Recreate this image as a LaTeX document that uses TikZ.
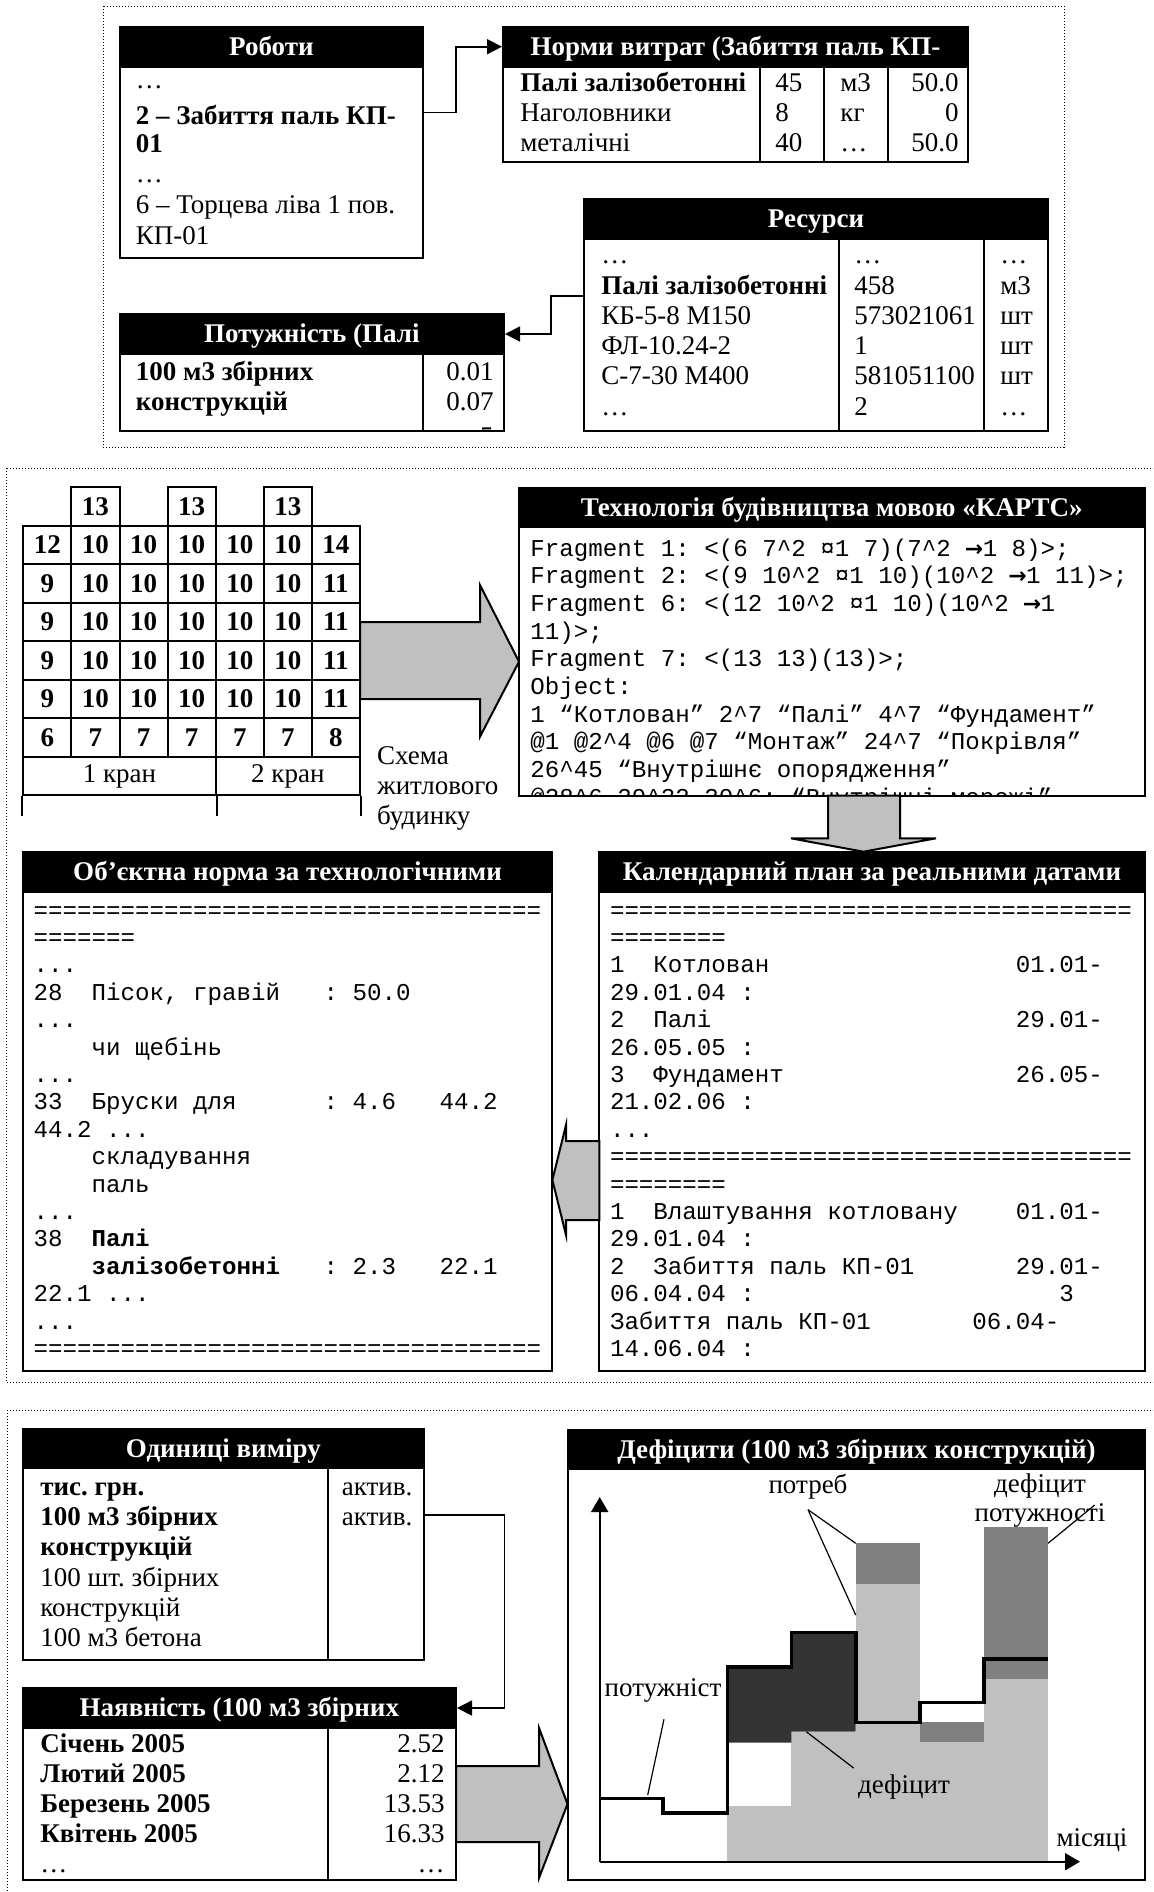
\documentclass[tikz,border=0pt]{standalone}
\usepackage{fontspec}
\setmainfont{Liberation Serif}
\setmonofont{Liberation Mono}
\newfontfamily\arrowfont{DejaVu Sans}
\usetikzlibrary{positioning}
\usetikzlibrary{arrows.meta}
\usetikzlibrary{fit}
\usetikzlibrary{calc}
\definecolor{arrowgray}{HTML}{C0C0C0}
\definecolor{needgray}{HTML}{C0C0C0}
\definecolor{lackgray}{HTML}{808080}
\definecolor{overgray}{HTML}{333333}
\newcommand\ca{\textasciicircum}
\newcommand\msp[1]{\hspace*{#1\fontdimen2\font}}
\newcommand\mdots{.{}.{}.}
\newcommand\goes{\makebox[1.2\fontdimen2\font][c]{\arrowfont\bfseries\fontsize{11}{13}\selectfont →}}
\tikzset{panel/.style = {line width=0.5pt, dash pattern=on 0.6pt off 0.9pt},
         bodybox/.style = {draw, line width=1pt, fill=white, inner sep=0pt},
         headbox/.style = {draw, line width=1pt, fill=black, inner sep=0pt},
         headtext/.style = {text=white, inner sep=0pt, text height=9.5pt, text depth=1pt,
                            font=\bfseries\fontsize{13.5}{15}\selectfont},
         divider/.style = {line width=1pt},
         txt/.style = {anchor=base west, inner sep=0pt, font=\fontsize{13.5}{15}\selectfont},
         txtr/.style = {anchor=base east, inner sep=0pt, font=\fontsize{13.5}{15}\selectfont},
         code/.style = {anchor=base west, inner sep=0pt, font=\ttfamily\fontsize{12.08}{13.7}\selectfont},
         cell/.style = {draw, line width=1pt, minimum width=24.05pt, minimum height=19.25pt,
                        inner sep=0pt, font=\bfseries\fontsize{13.5}{15}\selectfont},
         cellk/.style = {draw, line width=1pt, minimum height=19.25pt, inner sep=0pt,
                         font=\fontsize{13.5}{15}\selectfont},
         link/.style = {line width=0.8pt, -{Triangle[length=7.5pt,width=7.5pt]}},
         bigarrow/.style = {draw, line width=1pt, fill=arrowgray},
         chartaxis/.style = {line width=1pt, -{Triangle[length=7.5pt,width=8.5pt]}},
         capline/.style = {line width=1.8pt},
         pointer/.style = {line width=0.6pt},
         lbl/.style = {inner sep=0pt, font=\fontsize{13.5}{15}\selectfont}}
% table: name, x1, y1, x2, y2, header bottom, title
\newcommand\tablebox[7]{%
  \node[bodybox, fit={(#2,#3) (#4,#5)}] (#1) {};
  \node[headbox, fit={(#2,#3) (#4,#6)}] (#1-h) {};
  \node[headtext] (#1-t) at (#1-h.center) {#7};
}
\begin{document}
\frenchspacing
\begin{tikzpicture}[x=0.5pt, y=-0.5pt]
  \useasboundingbox (0,0) rectangle (1153,1892);
  \clip (0,0) rectangle (1153,1892);
  \draw[panel] (103,6) rectangle (1064,447);
  \draw[panel] (6,468) rectangle (1160,1382);
  \draw[panel] (7,1410) rectangle (1160,1900);

  % ---- panel 1: data tables
  \tablebox{rob}{119.6}{26.7}{423.3}{258}{66.7}{Роботи}
  \foreach \y/\t [count=\k] in {88/…, 124/{\textbf{2 – Забиття паль КП-}}, 152/{\textbf{01}},
                                182/…, 213/{6 – Торцева ліва 1 пов.}, 244/{КП-01}}
    \node[txt] (rob-\k) at (135.5,\y) {\t};

  \tablebox{norm}{503}{26.7}{968}{162}{66.7}{Норми витрат (Забиття паль КП-}
  \foreach \x in {759.5,824,888}
    \draw[divider] (\x,66.7) -- (\x,162);
  \foreach \y/\a/\b/\c/\d [count=\k] in {91.7/{\textbf{Палі залізобетонні}}/45/м3/50.0,
                                         121.7/Наголовники/8/кг/0, 151.7/металічні/40/…/50.0} {
    \node[txt] (norm-a\k) at (520,\y) {\a};
    \node[txt] (norm-b\k) at (775,\y) {\b};
    \node[txt] (norm-c\k) at (840,\y) {\c};
    \node[txtr] (norm-d\k) at (959,\y) {\d};
  }

  \tablebox{res}{584}{199}{1048}{431}{239}{Ресурси}
  \foreach \x in {839,984}
    \draw[divider] (\x,239) -- (\x,431);
  \foreach \y/\a/\b/\c [count=\k] in {263/…/…/…, 294/{\textbf{Палі залізобетонні}}/458/м3,
                                      324/КБ-5-8 М150/573021061/шт, 354/ФЛ-10.24-2/1/шт,
                                      384/С-7-30 М400/581051100/шт, 415/…/2/…} {
    \node[txt] (res-a\k) at (601,\y) {\a};
    \node[txt] (res-b\k) at (854,\y) {\b};
    \node[txt] (res-c\k) at (1000,\y) {\c};
  }

  \tablebox{pot}{119.6}{314}{504}{431}{354}{Потужність (Палі}
  \begin{scope}
    \clip (119.6,354) rectangle (504,431);
    \foreach \y/\a/\b [count=\k] in {380/{100 м3 збірних}/0.01, 410/конструкцій/0.07, 445/{тис. грн.}/5} {
      \node[txt, font=\bfseries\fontsize{13.5}{15}\selectfont] (pot-a\k) at (135.5,\y) {\a};
      \node[txtr] (pot-b\k) at (494,\y) {\b};
    }
  \end{scope}
  \draw[divider] (423,354) -- (423,431);

  \draw[link] ([yshift=14.85pt]rob.east) -- ++(31.7,0) |- (norm-h.west);
  \draw[link] ([yshift=9.5pt]res.west) -- ++(-32,0) |- (pot-h.east);

  % ---- panel 2: house scheme and programs
  \foreach \r/\row in {0/{12,10,10,10,10,10,14}, 1/{9,10,10,10,10,10,11}, 2/{9,10,10,10,10,10,11},
                       3/{9,10,10,10,10,10,11}, 4/{9,10,10,10,10,10,11}, 5/{6,7,7,7,7,7,8}}
    \foreach \v [count=\c from 0] in \row
      \node[cell] (g\r-\c) at ({23.3+48.1*(\c+0.5)}, {525.7+38.5*(\r+0.5)}) {\v};
  \foreach \c in {1,3,5}
    \node[cell] (top-\c) at ({23.3+48.1*(\c+0.5)}, 506.45) {13};
  \node[cellk, minimum width=96.2pt] (crane1) at (119.5,775.95) {1 кран};
  \node[cellk, minimum width=72.15pt] (crane2) at (287.85,775.95) {2 кран};
  \draw[divider] (crane1.south west) -- ++(0,20);
  \draw[divider] (crane1.south east) -- ++(0,20);
  \draw[divider] (crane2.south east) -- ++(0,20);
  \node[txt] (scheme1) at (376.7,764) {Схема};
  \node[txt] (scheme2) at (376.7,794) {житлового};
  \node[txt] (scheme3) at (376.7,824) {будинку};

  \draw[bigarrow] (360,622) -- (480,622) -- (480,585) -- (519,661.7)
                  -- (480,736.7) -- (480,699) -- (360,699) -- cycle;

  \tablebox{kart}{519}{487.7}{1144.7}{795.7}{527.3}{Технологія будівництва мовою «КАРТС»}
  \begin{scope}
    \clip (519,527.3) rectangle (1144.7,795.7);
    \foreach \t [count=\k from 0] in {{Fragment 1: <(6 7\ca2 ¤1 7)(7\ca2 \goes1 8)>;},
                                      {Fragment 2: <(9 10\ca2 ¤1 10)(10\ca2 \goes1 11)>;},
                                      {Fragment 6: <(12 10\ca2 ¤1 10)(10\ca2 \goes1},
                                      {11)>;},
                                      {Fragment 7: <(13 13)(13)>;},
                                      {Object:},
                                      {1 “Котлован” 2\ca7 “Палі” 4\ca7 “Фундамент”},
                                      {@1 @2\ca4 @6 @7 “Монтаж” 24\ca7 “Покрівля”},
                                      {26\ca45 “Внутрішнє опорядження”},
                                      {@28\ca6 29\ca33 30\ca6; “Внутрішні мережі”}}
      \node[code] (kart-\k) at (530,{556+27.7*\k}) {\t};
  \end{scope}

  \draw[bigarrow] (828,795.7) -- (828,838.3) -- (791,838.3) -- (863.5,851.7)
                  -- (936,838.3) -- (900,838.3) -- (900,795.7) -- cycle;

  \tablebox{obj}{22.7}{851.7}{552.4}{1371}{892.3}{Об’єктна норма за технологічними}
  \foreach \t [count=\k from 0] in {{===================================}, {=======}, {\mdots},
                                    {28\msp{2}Пісок, гравій\msp{3}: 50.0}, {\mdots},
                                    {\msp{4}чи щебінь}, {\mdots},
                                    {33\msp{2}Бруски для\msp{6}: 4.6\msp{3}44.2},
                                    {44.2 \mdots}, {\msp{4}складування}, {\msp{4}паль}, {\mdots},
                                    {38\msp{2}\textbf{Палі}},
                                    {\msp{4}\textbf{залізобетонні}\msp{3}: 2.3\msp{3}22.1},
                                    {22.1 \mdots}, {\mdots}, {===================================}}
    \node[code] (obj-\k) at (33.3,{918+27.4*\k}) {\t};

  \tablebox{cal}{599.4}{851.7}{1144.7}{1371}{892.3}{Календарний план за реальними датами}
  \foreach \t [count=\k from 0] in {{====================================}, {========},
                                    {1\msp{2}Котлован\msp{17}01.01-}, {29.01.04 :},
                                    {2\msp{2}Палі\msp{21}29.01-}, {26.05.05 :},
                                    {3\msp{2}Фундамент\msp{16}26.05-}, {21.02.06 :}, {\mdots},
                                    {====================================}, {========},
                                    {1\msp{2}Влаштування котловану\msp{4}01.01-}, {29.01.04 :},
                                    {2\msp{2}Забиття паль КП-01\msp{7}29.01-},
                                    {06.04.04 :\msp{21}3},
                                    {Забиття паль КП-01\msp{7}06.04-}, {14.06.04 :}}
    \node[code] (cal-\k) at (609.6,{918+27.4*\k}) {\t};

  \draw[bigarrow] (599.4,1141) -- (566,1141) -- (566,1125) -- (552.4,1180)
                  -- (566,1235) -- (566,1220) -- (599.4,1220) -- cycle;

  % ---- panel 3: units, availability, deficits
  \tablebox{unit}{22.7}{1429}{424}{1660}{1468.3}{Одиниці виміру}
  \draw[divider] (327.7,1468.3) -- (327.7,1660);
  \foreach \y/\t [count=\k] in {1495/{\textbf{тис. грн.}}, 1525/{\textbf{100 м3 збірних}},
                                1555/{\textbf{конструкцій}}, 1586/{100 шт. збірних},
                                1616/конструкцій, 1646/{100 м3 бетона}}
    \node[txt] (unit-a\k) at (40,\y) {\t};
  \node[txtr] (unit-b1) at (412.7,1495) {актив.};
  \node[txtr] (unit-b2) at (412.7,1525) {актив.};

  \tablebox{avail}{22.7}{1688.3}{456}{1880}{1727.7}{Наявність (100 м3 збірних}
  \draw[divider] (327.7,1727.7) -- (327.7,1880);
  \foreach \y/\a/\b [count=\k] in {1752/{Січень 2005}/2.52, 1782/{Лютий 2005}/2.12,
                                   1812/{Березень 2005}/13.53, 1842/{Квітень 2005}/16.33} {
    \node[txt, font=\bfseries\fontsize{13.5}{15}\selectfont] (avail-a\k) at (40,\y) {\a};
    \node[txtr] (avail-b\k) at (445,\y) {\b};
  }
  \node[txt] (avail-a5) at (40,1872) {…};
  \node[txtr] (avail-b5) at (445,1872) {…};

  \draw[link] ([yshift=14.75pt]unit.east) -- ++(79.3,0) |- (avail-h.east);

  \draw[bigarrow] (456,1766) -- (539,1766) -- (539,1728) -- (567.5,1804)
                  -- (539,1878) -- (539,1842) -- (456,1842) -- cycle;

  \tablebox{def}{568.3}{1430}{1144.7}{1880}{1469.3}{Дефіцити (100 м3 збірних конструкцій)}
  % need, shortage and surplus blocks
  \fill[needgray] (727.3,1861.7) rectangle (791.3,1806);
  \fill[needgray] (791.3,1861.7) rectangle (855.7,1731.7);
  \fill[needgray] (855.7,1861.7) rectangle (919.7,1584);
  \fill[needgray] (919.7,1861.7) rectangle (983.7,1741.7);
  \fill[needgray] (983.7,1861.7) rectangle (1048,1679);
  \fill[lackgray] (855.7,1584) rectangle (919.7,1543.3);
  \fill[lackgray] (919.7,1741.7) rectangle (983.7,1722.3);
  \fill[lackgray] (983.7,1679) rectangle (1048,1526.7);
  \fill[overgray] (727.3,1666.7) -- (791.3,1666.7) -- (791.3,1632.3) -- (855.7,1632.3)
                  -- (855.7,1731.7) -- (791.3,1731.7) -- (791.3,1742.7) -- (727.3,1742.7) -- cycle;
  \draw[capline] (599.7,1798.3) -- (663,1798.3) -- (663,1812.7) -- (727.3,1812.7)
                 -- (727.3,1666.7) -- (791.3,1666.7) -- (791.3,1632.3) -- (856,1632.3)
                 -- (856,1722.3) -- (919.7,1722.3) -- (919.7,1702.3) -- (983.7,1702.3)
                 -- (983.7,1659) -- (1048,1659);
  \draw[chartaxis] (599.7,1861.7) -- (599.7,1497);
  \draw[chartaxis] (599.7,1861.7) -- (1080,1861.7);

  \node[lbl] (cap-lbl) at (663,1690) {потужніст};
  \node[lbl] (need-lbl) at (808,1486.7) {потреб};
  \node[lbl] (lack-lbl) at (904,1786.7) {дефіцит};
  \node[lbl] (pow-lbl1) at (1040,1486) {дефіцит};
  \node[lbl] (pow-lbl2) at (1040,1515) {потужності};
  \node[lbl] (month-lbl) at (1092,1840) {місяці};

  \draw[pointer] ($(cap-lbl.south)+(1,17)$) -- (647.7,1795);
  \draw[pointer] ($(need-lbl.south)+(0,10)$) -- (855.7,1543.3);
  \draw[pointer] ($(need-lbl.south)+(0,10)$) -- (855.7,1615);
  \draw[pointer] ($(lack-lbl.north west)+(-4,-6)$) -- (806.3,1731.7);
  \draw[pointer] (1094.7,1505) -- (1048,1543.3);
\end{tikzpicture}
\end{document}
